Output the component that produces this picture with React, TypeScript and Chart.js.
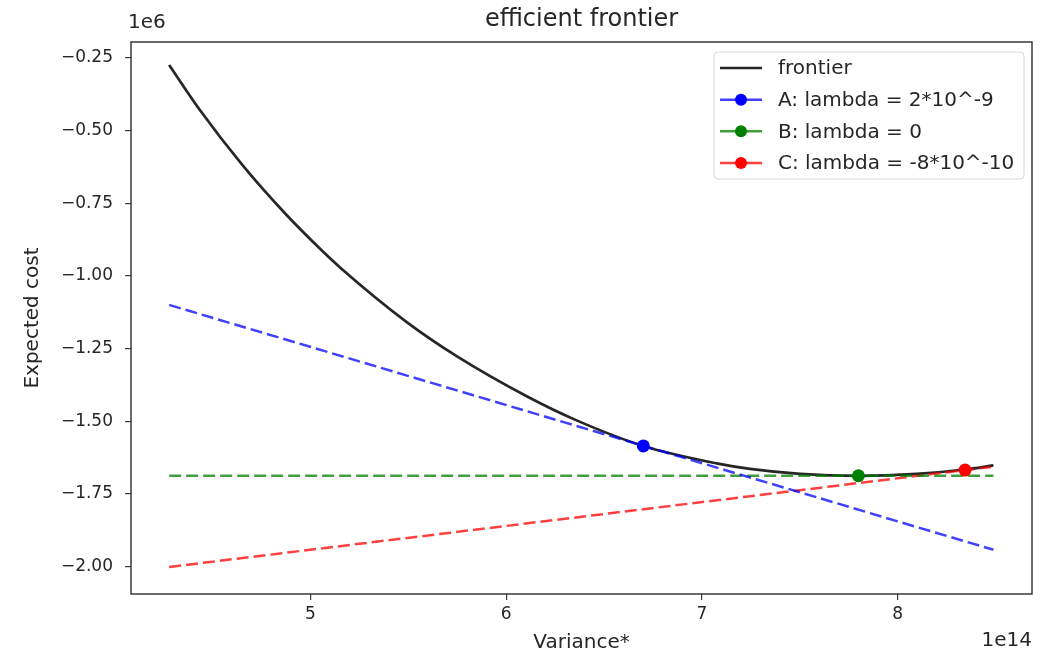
import React, { useEffect, useRef } from "react";
import { Chart, registerables } from "chart.js";

Chart.register(...registerables);

// Frontier (variance in 1e14, expected cost in 1e6)
const frontierVariance = [4.278, 4.435, 4.657, 4.878, 5.049, 5.151, 5.492, 5.747, 6.105, 6.36, 6.701, 7.076, 7.246, 7.502, 7.8, 8.098, 8.345, 8.49];
const frontierCost = [-0.275, -0.43, -0.623, -0.791, -0.907, -0.971, -1.159, -1.276, -1.414, -1.497, -1.585, -1.645, -1.664, -1.681, -1.6875, -1.681, -1.666, -1.652];

// Tangent lines (endpoints)
const lineVariance = [4.278, 8.49];
const lineACost = [-1.1, -1.942];
const lineBCost = [-1.6875, -1.6875];
const lineCCost = [-2.001, -1.656];

// Tangent points A, B, C
const pointVariance = [6.701, 7.8, 8.345];
const pointCost = [-1.585, -1.6875, -1.668];

const xTicks = [5, 6, 7, 8];
const yTicks = [-2.0, -1.75, -1.5, -1.25, -1.0, -0.75, -0.5, -0.25];

const seriesLabels = ["frontier", "A: lambda = 2*10^-9", "B: lambda = 0", "C: lambda = -8*10^-10"];
const lineColors = ["rgba(0,0,0,0.85)", "rgba(0,0,255,0.75)", "rgba(0,128,0,0.75)", "rgba(255,0,0,0.75)"];
const markerColors = ["#000000", "#0000ff", "#008000", "#ff0000"];

const FONT = "'DejaVu Sans', sans-serif";
const TEXT = "#262626";

const annotations = {
  id: "annotations",
  afterDraw(chart: any) {
    const ctx = chart.ctx;
    const a = chart.chartArea;
    ctx.save();
    // frame
    ctx.strokeStyle = "#3a3a3a";
    ctx.lineWidth = 1.5;
    ctx.strokeRect(a.left, a.top, a.right - a.left, a.bottom - a.top);
    // title
    ctx.fillStyle = TEXT;
    ctx.textAlign = "center";
    ctx.textBaseline = "middle";
    ctx.font = `24px ${FONT}`;
    ctx.fillText("efficient frontier", (a.left + a.right) / 2, 20);
    // x label
    ctx.font = `20px ${FONT}`;
    ctx.fillText("Variance*", (a.left + a.right) / 2, 643);
    // offsets
    ctx.textAlign = "left";
    ctx.fillText("1e6", a.left - 3, 23);
    ctx.textAlign = "right";
    ctx.fillText("1e14", a.right, 641);
    // y label
    ctx.save();
    ctx.translate(33, (a.top + a.bottom) / 2);
    ctx.rotate(-Math.PI / 2);
    ctx.textAlign = "center";
    ctx.fillText("Expected cost", 0, 0);
    ctx.restore();

    // legend
    const bx = 714, by = 52, bw = 310, bh = 127;
    ctx.beginPath();
    ctx.roundRect(bx, by, bw, bh, 4);
    ctx.fillStyle = "rgba(255,255,255,0.8)";
    ctx.fill();
    ctx.strokeStyle = "#d6d6d6";
    ctx.lineWidth = 1;
    ctx.stroke();
    const rows = [68, 99.7, 131.3, 163];
    ctx.font = `20px ${FONT}`;
    ctx.textAlign = "left";
    ctx.textBaseline = "middle";
    seriesLabels.forEach((lab, i) => {
      const y = rows[i];
      ctx.strokeStyle = lineColors[i];
      ctx.lineWidth = 2.5;
      ctx.setLineDash([]);
      ctx.beginPath();
      ctx.moveTo(720, y);
      ctx.lineTo(762, y);
      ctx.stroke();
      if (i > 0) {
        ctx.fillStyle = markerColors[i];
        ctx.beginPath();
        ctx.arc(741, y, 6, 0, Math.PI * 2);
        ctx.fill();
      }
      ctx.fillStyle = TEXT;
      ctx.fillText(lab, 778, y + 1);
    });
    ctx.restore();
  },
};

const pts = (xs: number[], ys: number[]) => xs.map((x, i) => ({ x, y: ys[i] }));

export default function App() {
  const ref = useRef<HTMLCanvasElement | null>(null);
  useEffect(() => {
    if (!ref.current) return;
    const dashed = (data: any, color: string) => ({
      data,
      showLine: true,
      borderColor: color,
      borderWidth: 2.5,
      borderDash: [12, 5],
      pointRadius: 0,
      order: 1,
    });
    const marker = (i: number) => ({
      data: [{ x: pointVariance[i], y: pointCost[i] }],
      showLine: false,
      pointRadius: 6.5,
      pointBackgroundColor: markerColors[i + 1],
      pointBorderColor: markerColors[i + 1],
      pointBorderWidth: 0,
      order: 0,
    });
    const chart = new Chart(ref.current, {
      type: "scatter",
      data: {
        datasets: [
          {
            data: pts(frontierVariance, frontierCost),
            showLine: true,
            borderColor: lineColors[0],
            borderWidth: 2.7,
            pointRadius: 0,
            cubicInterpolationMode: "monotone",
            order: 2,
          } as any,
          dashed(pts(lineVariance, lineACost), lineColors[1]),
          dashed(pts(lineVariance, lineBCost), lineColors[2]),
          dashed(pts(lineVariance, lineCCost), lineColors[3]),
          marker(0),
          marker(1),
          marker(2),
        ],
      },
      options: {
        animation: false,
        responsive: true,
        maintainAspectRatio: false,
        layout: { padding: { top: 42, right: 16, left: 0, bottom: 0 } },
        plugins: { legend: { display: false }, tooltip: { enabled: false }, title: { display: false } },
        scales: {
          x: {
            type: "linear",
            min: 4.083,
            max: 8.687,
            afterBuildTicks: (s: any) => {
              s.ticks = xTicks.map((v) => ({ value: v }));
            },
            afterFit: (s: any) => {
              s.height = 64;
            },
            grid: { display: true, drawOnChartArea: false, drawTicks: true, tickLength: 6, color: "#3a3a3a", lineWidth: 1.2 },
            border: { display: false },
            ticks: { color: TEXT, font: { family: FONT, size: 17 }, padding: 4, callback: (v: any) => String(v) },
          },
          y: {
            type: "linear",
            min: -2.094,
            max: -0.196,
            afterBuildTicks: (s: any) => {
              s.ticks = yTicks.map((v) => ({ value: v }));
            },
            afterFit: (s: any) => {
              s.width = 131;
            },
            grid: { display: true, drawOnChartArea: false, drawTicks: true, tickLength: 6, color: "#3a3a3a", lineWidth: 1.2 },
            border: { display: false },
            ticks: {
              color: TEXT,
              font: { family: FONT, size: 17 },
              padding: 12,
              callback: (v: any) => {
                const n = Number(v);
                const s = Math.abs(n).toFixed(2);
                return n < 0 ? "\u2212" + s : s;
              },
            },
          },
        },
      },
      plugins: [annotations],
    });
    return () => chart.destroy();
  }, []);
  return (
    <div style={{ position: "fixed", left: 0, top: 0, width: 1048, height: 658, background: "#fff" }}>
      <canvas ref={ref} />
    </div>
  );
}
